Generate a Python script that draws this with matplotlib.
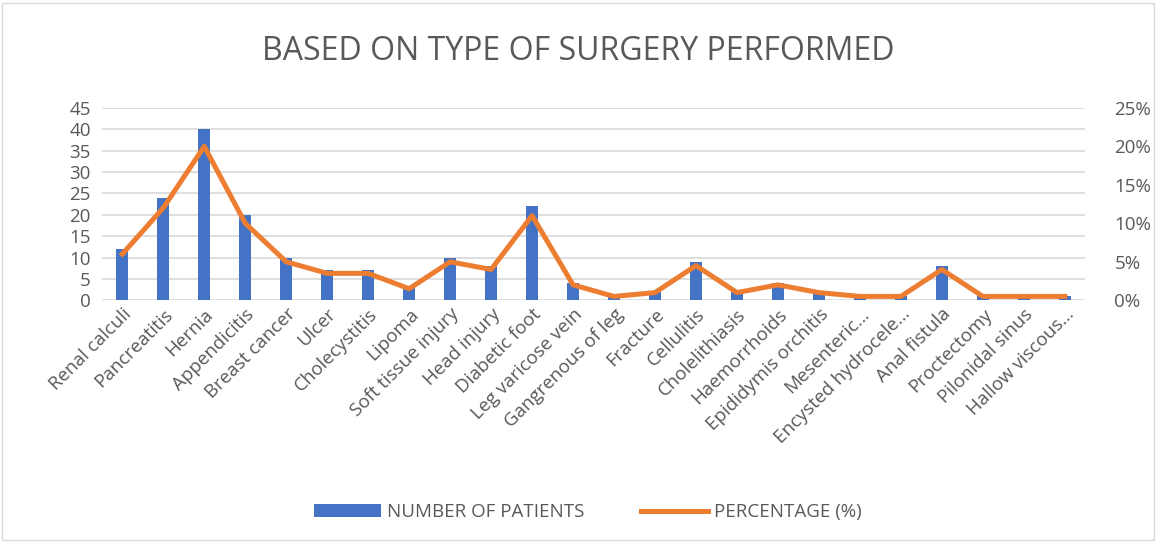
import matplotlib.pyplot as plt
import numpy as np

plt.rcParams['font.family'] = ['Open Sans', 'DejaVu Sans']

surgeries = ["Renal calculi", "Pancreatitis", "Hernia", "Appendicitis", "Breast cancer",
             "Ulcer", "Cholecystitis", "Lipoma", "Soft tissue injury", "Head injury",
             "Diabetic foot", "Leg varicose vein", "Gangrenous of leg", "Fracture",
             "Cellulitis", "Cholelithiasis", "Haemorrhoids", "Epididymis orchitis",
             "Mesenteric\u2026", "Encysted hydrocele\u2026", "Anal fistula", "Proctectomy",
             "Pilonidal sinus", "Hallow viscous\u2026"]
patients = [12, 24, 40, 20, 10, 7, 7, 3, 10, 8, 22, 4, 1, 2, 9, 2, 4, 2, 1, 1, 8, 1, 1, 1]
percentage = [6, 12, 20, 10, 5, 3.5, 3.5, 1.5, 5, 4, 11, 2, 0.5, 1, 4.5, 1, 2, 1,
              0.5, 0.5, 4, 0.5, 0.5, 0.5]

grey = "#595959"
blue = "#4472C4"
orange = "#ED7D31"

fig = plt.figure(figsize=(11.57, 5.42), dpi=100)
ax = fig.add_axes([0.088, 0.446, 0.850, 0.355])
x = np.arange(len(surgeries))

ax.bar(x, patients, width=0.3, color=blue, label="NUMBER OF PATIENTS", zorder=3)
ax.set_ylim(0, 45)
ax.set_yticks(range(0, 46, 5))
ax.set_xlim(-0.5, len(surgeries) - 0.5)
ax.grid(axis='y', color="#d9d9d9", linewidth=1.2, zorder=0)
for s in ax.spines.values():
    s.set_visible(False)
ax.tick_params(axis='both', length=0, colors=grey, labelsize=13.5)
ax.tick_params(axis='y', pad=8)
ax.set_xticks(x)
ax.set_xticklabels(surgeries, rotation=45, ha='right', rotation_mode='anchor')

ax2 = ax.twinx()
ax2.plot(x, percentage, color=orange, linewidth=3.6, label="PERCENTAGE (%)", zorder=4)
ax2.set_ylim(0, 25)
ax2.set_yticks(range(0, 26, 5))
ax2.set_yticklabels([f"{v}%" for v in range(0, 26, 5)])
for s in ax2.spines.values():
    s.set_visible(False)
ax2.tick_params(axis='y', length=0, colors=grey, labelsize=13.5, pad=21)

fig.text(0.5, 0.905, "BASED ON TYPE OF SURGERY PERFORMED", ha='center', va='center',
         fontsize=23, color=grey)

h1, l1 = ax.get_legend_handles_labels()
h2, l2 = ax2.get_legend_handles_labels()
fig.legend(h1 + h2, l1 + l2, loc='center', bbox_to_anchor=(0.508, 0.055), ncol=2,
           frameon=False, fontsize=13.5, labelcolor=grey, columnspacing=3,
           handlelength=3.6, handletextpad=0.3)

fig.patches.append(plt.Rectangle((0.002, 0.004), 0.995, 0.99, transform=fig.transFigure,
                                 fill=False, edgecolor="#d9d9d9", linewidth=1))

plt.savefig("out.png", dpi=100)
